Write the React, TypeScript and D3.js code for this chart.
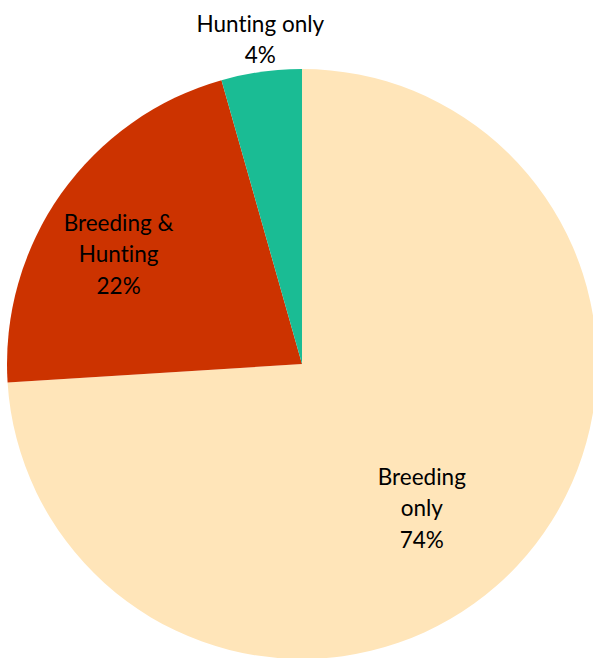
import React from "react";
import * as d3 from "d3";

const categories = ["Breeding only", "Breeding & Hunting", "Hunting only"];
const values = [74, 21.6, 4.4];
const labelLines = [["Breeding", "only", "74%"], ["Breeding &", "Hunting", "22%"], ["Hunting only", "4%"]];
const colors = ["#FFE5B9", "#CC3300", "#1ABC94"];

const W = 593, H = 658;
const cx = 302, cy = 364, R = 295;
const labelPos = [
  { r: 0.72 * R, dx: -35, dy: -1 },
  { r: 0.72 * R, dx: -10, dy: 13 },
  { r: 1.1 * R, dx: 3, dy: -3 },
];

export default function App() {
  const pie = d3.pie<number>().sort(null).value((d) => d)(values);
  const arc = d3.arc<d3.PieArcDatum<number>>().innerRadius(0).outerRadius(R);
  const lh = 31.5;
  return (
    <svg width={W} height={H} style={{ position: "absolute", left: 0, top: 0 }}>
      <g transform={`translate(${cx},${cy})`}>
        {pie.map((p, i) => (
          <path key={categories[i]} d={arc(p) || ""} fill={colors[i]} />
        ))}
        {pie.map((p, i) => {
          const a = (p.startAngle + p.endAngle) / 2;
          const lp = labelPos[i];
          const x = Math.sin(a) * lp.r + lp.dx;
          const y = -Math.cos(a) * lp.r + lp.dy;
          const lines = labelLines[i];
          const y0 = y - ((lines.length - 1) * lh) / 2;
          return (
            <text
              key={i}
              textAnchor="middle"
              fontFamily="Lato, 'Open Sans', sans-serif"
              fontSize={22.5}
              fill="#000"
              style={{ fontVariantLigatures: "none", fontFeatureSettings: '"liga" 0, "clig" 0' }}
            >
              {lines.map((l, j) => (
                <tspan key={j} x={x} y={y0 + j * lh} dy="0.35em">{l}</tspan>
              ))}
            </text>
          );
        })}
      </g>
    </svg>
  );
}
